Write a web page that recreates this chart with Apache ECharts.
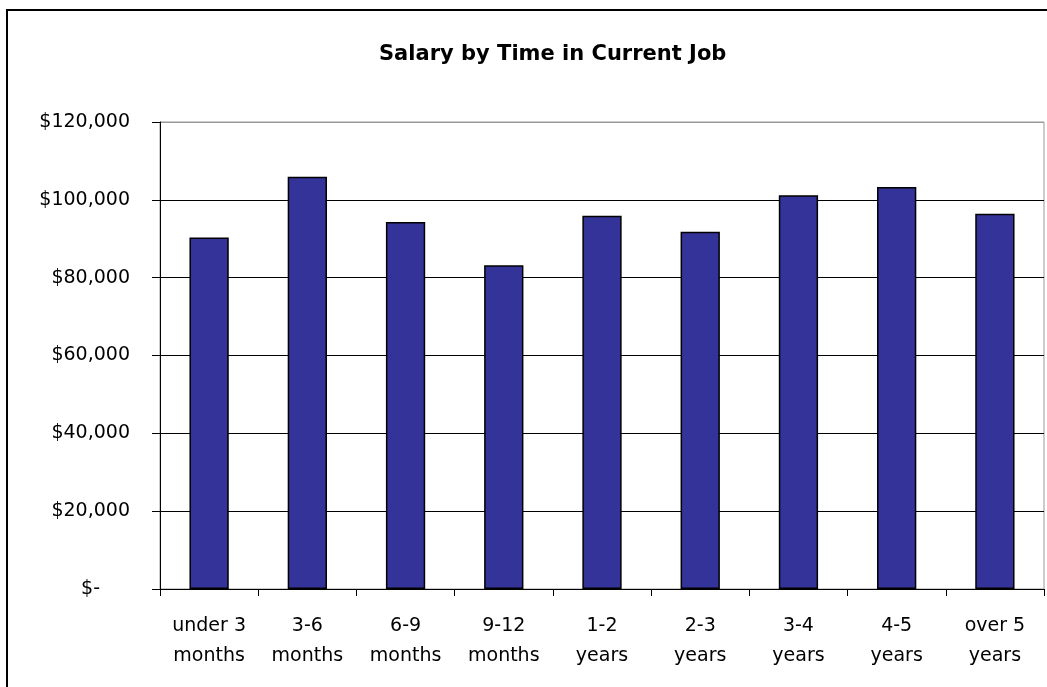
<!DOCTYPE html>
<html lang="en">
<head>
    <meta charset="UTF-8">
    <title>Salary by Time in Current Job</title>
    <script src="https://cdn.jsdelivr.net/npm/echarts@6/dist/echarts.min.js"></script>
    <style>
        html, body { margin: 0; padding: 0; background: #fff; }
        #main { width: 1047px; height: 687px; }
    </style>
</head>
<body>
<div id="main"></div>
<script type="text/javascript">
    // categories, two lines each
    var categories = ['under 3\nmonths', '3-6\nmonths', '6-9\nmonths', '9-12\nmonths',
        '1-2\nyears', '2-3\nyears', '3-4\nyears', '4-5\nyears', 'over 5\nyears'];
    // average salary
    var salary = [90300, 105900, 94300, 83200, 95900, 91800, 101200, 103300, 96400];
    // y axis ticks
    var yTicks = [0, 20000, 40000, 60000, 80000, 100000, 120000];

    var font = 'DejaVu Sans, Arial, sans-serif';

    var chart = echarts.init(document.getElementById('main'));
    chart.setOption({
        animation: false,
        backgroundColor: '#fff',
        title: {
            text: 'Salary by Time in Current Job',
            left: 374,
            top: 39,
            textStyle: { fontFamily: font, fontSize: 21, fontWeight: 'bold', color: '#000' }
        },
        // outer chart frame
        graphic: [{
            type: 'rect',
            shape: { x: 7, y: 10, width: 1200, height: 1000 },
            style: { fill: 'none', stroke: '#000', lineWidth: 2 },
            silent: true
        }],
        grid: {
            left: 160,
            right: 3,
            top: 122,
            bottom: 98,
            show: true,
            borderColor: '#999',
            borderWidth: 1,
            backgroundColor: 'transparent'
        },
        xAxis: {
            type: 'category',
            data: categories,
            boundaryGap: true,
            axisLine: { show: true, lineStyle: { color: '#000', width: 1 } },
            axisTick: { show: true, alignWithLabel: false, length: 7, lineStyle: { color: '#000' } },
            axisLabel: {
                color: '#000',
                fontFamily: font,
                fontSize: 19,
                lineHeight: 30,
                margin: 22,
                interval: 0
            },
            splitLine: { show: false }
        },
        yAxis: {
            type: 'value',
            min: yTicks[0],
            max: yTicks[yTicks.length - 1],
            interval: 20000,
            axisLine: { show: true, lineStyle: { color: '#000', width: 1 } },
            axisTick: { show: true, inside: false, length: 8, lineStyle: { color: '#000' } },
            axisLabel: {
                color: '#000',
                fontFamily: font,
                fontSize: 19,
                margin: 30,
                formatter: function (v) {
                    return v === 0 ? '{dash|$-}' : '$' + v.toLocaleString('en-US');
                },
                rich: {
                    dash: { fontFamily: font, fontSize: 19, color: '#000', padding: [0, 30, 0, 0] }
                }
            },
            // top line belongs to the grey plot frame
            splitLine: {
                show: true,
                lineStyle: { color: ['#000', '#000', '#000', '#000', '#000', '#000', '#999'], width: 1 }
            }
        },
        series: [{
            type: 'bar',
            data: salary,
            barWidth: '40%',
            itemStyle: { color: '#333399', borderColor: '#000', borderWidth: 1.5 }
        }]
    });
</script>
</body>
</html>
